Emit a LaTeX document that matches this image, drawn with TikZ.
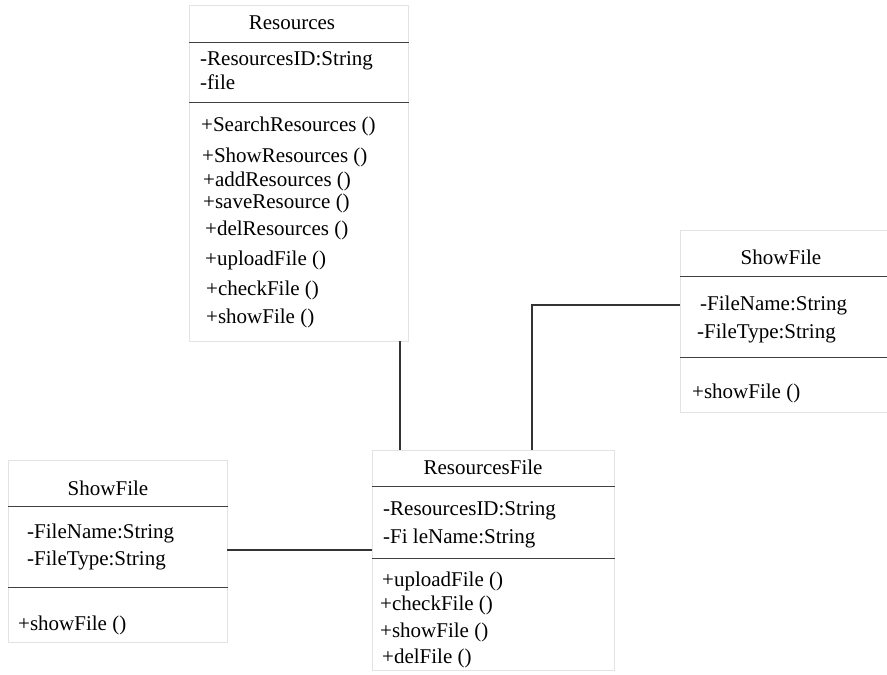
\documentclass[tikz,border=0pt]{standalone}
\usepackage{fontspec}
\setmainfont{Liberation Serif}
\begin{document}
\begin{tikzpicture}[x=1pt,y=-1pt,
  classbox/.style={draw=black!11,line width=0.9pt,fill=white,rectangle,inner sep=0pt,anchor=north west},
  divider/.style={draw=black!75,line width=1pt},
  conn/.style={draw=black!80,line width=1.1pt},
  txt/.style={anchor=base west,inner sep=0pt,font=\fontsize{21}{24}\selectfont},
  ttl/.style={anchor=base,inner sep=0pt,font=\fontsize{21}{24}\selectfont}]
\useasboundingbox (0,0) rectangle (887,675);
\clip (0,0) rectangle (887,675);
% boxes
\node[classbox,minimum width=219pt,minimum height=336pt] (res) at (189,5) {};
\node[classbox,minimum width=242pt,minimum height=220pt] (rf) at (372,450) {};
\node[classbox,minimum width=219pt,minimum height=182pt] (sfl) at (8,460) {};
\node[classbox,minimum width=215pt,minimum height=182pt] (sfr) at (680,230) {};
% connectors
\coordinate (c1) at (400,341);
\coordinate (c2) at (532,305);
\coordinate (c3) at (227,550);
\draw[conn] (c1) -- (c1 |- rf.north);
\draw[conn] (c2 |- rf.north) -- (c2) -- (c2 -| sfr.west);
\draw[conn] (c3) -- (c3 -| rf.west);
% dividers
\draw[divider] (res.west |- 0,42) -- (res.east |- 0,42);
\draw[divider] (res.west |- 0,102) -- (res.east |- 0,102);
\draw[divider] (rf.west |- 0,486) -- (rf.east |- 0,486);
\draw[divider] (rf.west |- 0,558) -- (rf.east |- 0,558);
\draw[divider] (sfl.west |- 0,506) -- (sfl.east |- 0,506);
\draw[divider] (sfl.west |- 0,587) -- (sfl.east |- 0,587);
\draw[divider] (sfr.west |- 0,276) -- (sfr.east |- 0,276);
\draw[divider] (sfr.west |- 0,357) -- (sfr.east |- 0,357);
% Resources text
\node[ttl] (t1) at (292,29) {Resources};
\node[txt] (a1) at (200,65) {-ResourcesID:String};
\node[txt] (a2) at (200,89) {-file};
\node[txt] (m1) at (201,131) {+SearchResources ()};
\node[txt] (m2) at (202,162) {+ShowResources ()};
\node[txt] (m3) at (203,186) {+addResources ()};
\node[txt] (m4) at (203,208) {+saveResource ()};
\node[txt] (m5) at (205,235) {+delResources ()};
\node[txt] (m6) at (205,265) {+uploadFile ()};
\node[txt] (m7) at (206,295) {+checkFile ()};
\node[txt] (m8) at (206,323) {+showFile ()};
% ResourcesFile text
\node[ttl] (t2) at (483,474) {ResourcesFile};
\node[txt] (b1) at (383,515) {-ResourcesID:String};
\node[txt] (b2) at (383,543) {-Fi leName:String};
\node[txt] (n1) at (382,586) {+uploadFile ()};
\node[txt] (n2) at (380,610) {+checkFile ()};
\node[txt] (n3) at (380,637) {+showFile ()};
\node[txt] (n4) at (382,663) {+delFile ()};
% ShowFile left
\node[ttl] (t3) at (108,495) {ShowFile};
\node[txt] (d1) at (27,538) {-FileName:String};
\node[txt] (d2) at (27,565) {-FileType:String};
\node[txt] (e1) at (18,630) {+showFile ()};
% ShowFile right
\node[ttl] (t4) at (781,264) {ShowFile};
\node[txt] (f1) at (700,310) {-FileName:String};
\node[txt] (f2) at (697,338) {-FileType:String};
\node[txt] (g1) at (692,398) {+showFile ()};
\end{tikzpicture}
\end{document}
